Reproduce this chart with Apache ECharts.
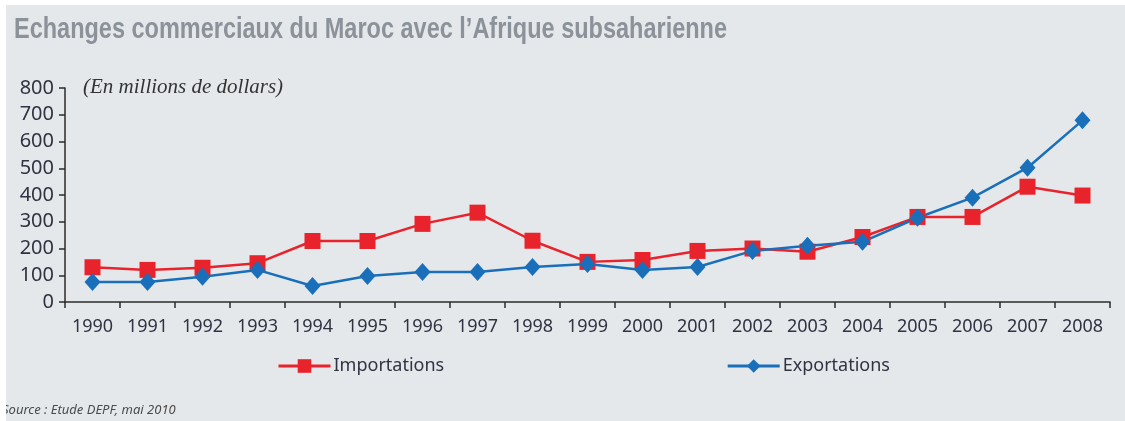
<!DOCTYPE html>
<html>
<head>
<meta charset="utf-8">
<script src="https://cdn.jsdelivr.net/npm/echarts@6/dist/echarts.min.js"></script>
<style>
  html, body { margin: 0; padding: 0; background: #ffffff; }
  #chart { position: absolute; left: 6px; top: 5px; width: 1119px; height: 416px; background: #e5e8eb; }
</style>
</head>
<body>
<div id="chart"></div>
<script>
// données (millions de dollars)
var years = ['1990','1991','1992','1993','1994','1995','1996','1997','1998','1999',
             '2000','2001','2002','2003','2004','2005','2006','2007','2008'];
var importations = [130, 120, 128, 145, 228, 228, 292, 334, 229, 150,
                    157, 191, 200, 188, 243, 318, 318, 431, 398];
var exportations = [75, 75, 94, 120, 60, 97, 112, 112, 131, 142,
                    120, 131, 191, 210, 225, 315, 390, 502, 679];
var yTicks = [0, 100, 200, 300, 400, 500, 600, 700, 800];

var mychart = echarts.init(document.getElementById('chart'));

var textColor = '#2f3342';
var axisColor = '#2b2b2b';

// titre condensé : on mesure puis on resserre horizontalement
var titleText = 'Echanges commerciaux du Maroc avec l\u2019Afrique subsaharienne';
var titleFont = 'bold 30px "Liberation Sans", Arial, sans-serif';
var ctx = document.createElement('canvas').getContext('2d');
ctx.font = titleFont;
var titleScale = 713 / ctx.measureText(titleText).width;

option = {
    backgroundColor: '#e5e8eb',
    animation: false,
    graphic: [
        {
            type: 'text',
            x: 8,
            y: 10,
            scaleX: titleScale,
            style: {
                text: titleText,
                fill: '#8b9299',
                font: titleFont
            }
        },
        {
            type: 'text',
            left: 77,
            top: 72,
            style: {
                text: '(En millions de dollars)',
                fill: '#333',
                font: 'italic 21px "Liberation Serif", "DejaVu Serif", serif'
            }
        },
        {
            type: 'text',
            left: -4,
            top: 399,
            style: {
                text: 'Source : Etude DEPF, mai 2010',
                fill: '#4a4a4a',
                font: 'italic 13px "Noto Sans", sans-serif'
            }
        }
    ],
    legend: {
        left: 266,
        top: 347,
        itemGap: 282,
        itemWidth: 52,
        itemHeight: 17,
        lineStyle: { width: 3 },
        textStyle: {
            color: textColor,
            fontSize: 18,
            fontFamily: '"Noto Sans", sans-serif',
            padding: [0, 0, 0, -2]
        },
        data: ['Importations', 'Exportations']
    },
    grid: {
        left: 59,
        right: 15,
        top: 83,
        bottom: 119
    },
    xAxis: {
        type: 'category',
        data: years,
        boundaryGap: true,
        axisLine: { lineStyle: { color: axisColor, width: 1.5 } },
        axisTick: { show: true, length: 6, lineStyle: { color: axisColor, width: 1.5 } },
        axisLabel: {
            color: textColor,
            fontSize: 18,
            margin: 16,
            fontFamily: '"Noto Sans", sans-serif'
        },
        splitLine: { show: false }
    },
    yAxis: {
        type: 'value',
        min: yTicks[0],
        max: yTicks[yTicks.length - 1],
        interval: 100,
        axisLine: { show: true, lineStyle: { color: axisColor, width: 1.5 } },
        axisTick: { show: true, length: 6, lineStyle: { color: axisColor, width: 1.5 } },
        axisLabel: {
            color: textColor,
            fontSize: 20,
            margin: 11,
            fontFamily: '"Noto Sans", sans-serif'
        },
        splitLine: { show: false }
    },
    series: [
        {
            name: 'Importations',
            type: 'line',
            data: importations,
            symbol: 'rect',
            symbolSize: 16,
            lineStyle: { color: '#e8232b', width: 2.5 },
            itemStyle: { color: '#e8232b' }
        },
        {
            name: 'Exportations',
            type: 'line',
            data: exportations,
            symbol: 'diamond',
            symbolSize: [16, 18],
            lineStyle: { color: '#1a6fba', width: 2.5 },
            itemStyle: { color: '#1a6fba' }
        }
    ]
};
mychart.setOption(option);
</script>
</body>
</html>
